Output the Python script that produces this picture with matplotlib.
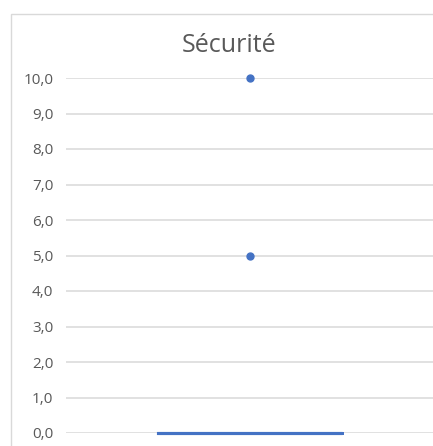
import matplotlib
matplotlib.use("Agg")
import matplotlib.pyplot as plt
from matplotlib.patches import Rectangle

title = "Sécurité"
scores = [0, 0, 0, 0, 0, 0, 0, 0, 0, 0, 5, 10]
y_ticks = [0, 1, 2, 3, 4, 5, 6, 7, 8, 9, 10]
y_labels = [f"{v:.1f}".replace(".", ",") for v in y_ticks]

blue = "#4472C4"
grid = "#D9D9D9"
text_col = "#595959"

plt.rcParams["font.family"] = ["Open Sans", "DejaVu Sans"]

W, H = 433, 446
fig = plt.figure(figsize=(W / 100, H / 100), dpi=100)

# chart border
fig.patches.append(Rectangle((11 / W, -0.1), 1.2, 1 - 14 / H + 0.1,
                             transform=fig.transFigure, fill=False,
                             edgecolor=grid, linewidth=1.0))

ax = fig.add_axes([66 / W, 1 - 433 / H, 1 - 66 / W + 0.002, (433 - 78) / H])

bp = ax.boxplot(scores, positions=[1], widths=0.5, whis=1.5, showmeans=False,
                showcaps=False, manage_ticks=False,
                boxprops=dict(color=blue, linewidth=2.2),
                medianprops=dict(color=blue, linewidth=2.2),
                flierprops=dict(marker="o", markerfacecolor=blue,
                                markeredgecolor=blue, markersize=5))
for w in bp["whiskers"]:
    w.set_visible(False)
for group in bp.values():
    for artist in group:
        artist.set_clip_on(False)

ax.set_ylim(0, 10)
ax.set_xlim(0.5, 1.5)
ax.set_yticks(y_ticks)
ax.set_yticklabels(y_labels, color=text_col, fontsize=11)
ax.tick_params(axis="y", length=0, pad=9)
ax.set_xticks([])
for s in ax.spines.values():
    s.set_visible(False)
ax.yaxis.grid(True, color=grid, linewidth=1.1)
ax.set_axisbelow(True)
ax.patch.set_alpha(0)

fig.text(229 / W, 1 - 45 / H, title, ha="center", va="center",
         fontsize=18, color=text_col)

fig.savefig("out.png", dpi=100)
